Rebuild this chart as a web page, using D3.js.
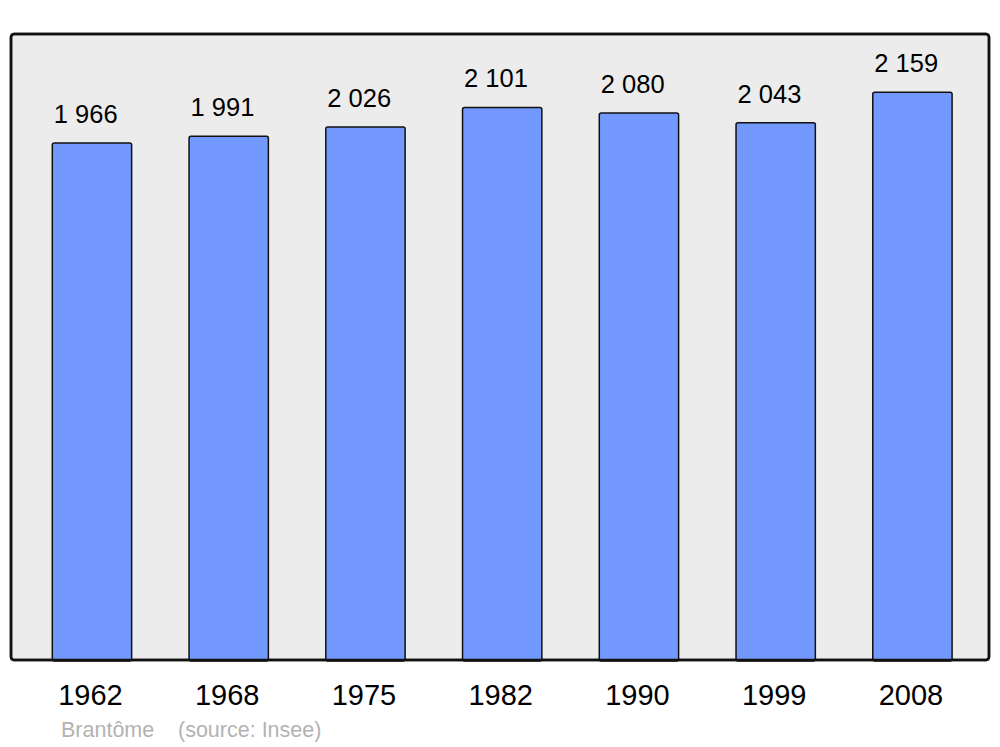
<!DOCTYPE html>
<html><head><meta charset="utf-8">
<script src="https://cdn.jsdelivr.net/npm/d3@7"></script>
<style>body{margin:0;background:#fff}svg{display:block}text{font-family:"Liberation Sans",Arial,sans-serif}</style>
</head><body>
<script>
const years = ["1962","1968","1975","1982","1990","1999","2008"];
const population = [1966,1991,2026,2101,2080,2043,2159];
const valueLabels = ["1 966","1 991","2 026","2 101","2 080","2 043","2 159"];
const place = "Brantôme";
const source = "(source: Insee)";

const W=1000,H=747;
const svg=d3.select("body").append("svg").attr("width",W).attr("height",H);
const frame={x0:11,x1:989,y0:34,y1:660};
svg.append("rect").attr("x",frame.x0).attr("y",frame.y0)
  .attr("width",frame.x1-frame.x0).attr("height",frame.y1-frame.y0)
  .attr("rx",3).attr("fill","#ececec").attr("stroke","#111").attr("stroke-width",2.5);

const x=d3.scaleBand().domain(years).range([23.6,980.8]).paddingInner(0.42).paddingOuter(0.21);
const y=d3.scaleLinear().domain([0,2380]).range([frame.y1,frame.y0]);

svg.selectAll("rect.bar").data(years).enter().append("rect").attr("class","bar")
  .attr("x",d=>x(d)).attr("y",(d,i)=>y(population[i]))
  .attr("width",x.bandwidth()).attr("height",(d,i)=>frame.y1-y(population[i])+1)
  .attr("rx",2).attr("fill","#7399ff").attr("stroke","#111").attr("stroke-width",1.5);

svg.append("rect").attr("x",frame.x0).attr("y",frame.y0)
  .attr("width",frame.x1-frame.x0).attr("height",frame.y1-frame.y0)
  .attr("rx",3).attr("fill","none").attr("stroke","#111").attr("stroke-width",2.5);

svg.selectAll("text.val").data(years).enter().append("text").attr("class","val")
  .attr("x",d=>x(d)+1.5).attr("y",(d,i)=>y(population[i])-20)
  .attr("text-anchor","start").attr("font-size",25.5).attr("fill","#000")
  .text((d,i)=>valueLabels[i]);

const xAxis=svg.append("g").attr("transform",`translate(0,${frame.y1})`)
  .call(d3.axisBottom(x).tickSize(0).tickPadding(0));
xAxis.select(".domain").remove();
xAxis.selectAll("text").attr("font-size",29).attr("font-family","'Liberation Sans',Arial,sans-serif")
  .attr("fill","#000").attr("dy",0).attr("y",45).attr("dx",-1.5);

svg.append("text").attr("x",61).attr("y",737).attr("font-size",21.5).attr("fill","#b3b3b3").text(place);
svg.append("text").attr("x",178).attr("y",737).attr("font-size",21.5).attr("fill","#b3b3b3").text(source);
</script>
</body></html>
